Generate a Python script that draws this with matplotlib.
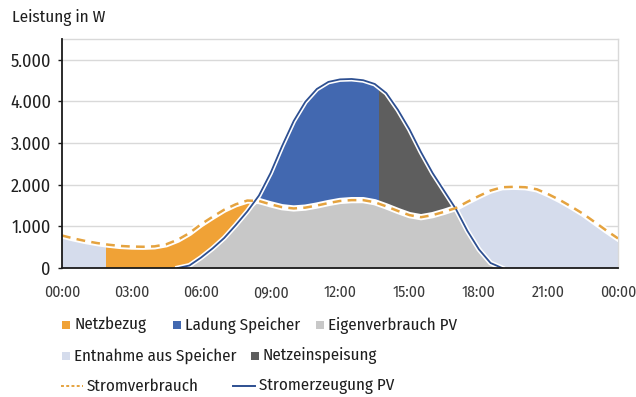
import numpy as np
import matplotlib
matplotlib.use("Agg")
import matplotlib.pyplot as plt
from matplotlib.patches import Rectangle
from matplotlib.lines import Line2D
from matplotlib.ticker import FuncFormatter

plt.rcParams['font.family'] = ['Fira Sans Condensed', 'DejaVu Sans']
plt.rcParams['font.stretch'] = 'condensed'

# Half-hourly profile of one day (hours 0..24)
hours = np.arange(0, 24.5, 0.5)

# Household consumption in W
consumption = [
    780, 710, 650, 600, 560, 530, 515, 510, 520, 570,
    680, 840, 1050, 1230, 1400, 1530, 1620, 1610, 1530, 1460,
    1430, 1450, 1500, 1560, 1610, 1630, 1630, 1580, 1480, 1370,
    1270, 1220, 1270, 1350, 1440, 1590, 1730, 1860, 1940, 1950,
    1940, 1890, 1770, 1630, 1470, 1300, 1100, 900, 710,
]

# PV generation in W
pv = [
    0, 0, 0, 0, 0, 0, 0, 0, 0, 0,
    0, 60, 250, 470, 720, 1030, 1360, 1740, 2280, 2930,
    3530, 3990, 4300, 4470, 4530, 4540, 4510, 4420, 4200, 3800,
    3330, 2780, 2280, 1850, 1420, 890, 445, 120, 0, 0,
    0, 0, 0, 0, 0, 0, 0, 0, 0,
]

# Times at which the battery is empty (grid supply starts) and full (feed-in starts)
battery_empty_h = 1.9
battery_full_h = 13.7

x_ticks = [0, 3, 6, 9, 12, 15, 18, 21, 24]
x_tick_labels = ["00:00", "03:00", "06:00", "09:00", "12:00", "15:00", "18:00", "21:00", "00:00"]
y_ticks = [0, 1000, 2000, 3000, 4000, 5000]

labels_fill = ["Netzbezug", "Ladung Speicher", "Eigenverbrauch PV",
               "Entnahme aus Speicher", "Netzeinspeisung"]
labels_line = ["Stromverbrauch", "Stromerzeugung PV"]

c_grid_supply = "#F0A236"
c_charge = "#4268B0"
c_self = "#C8C8C8"
c_discharge = "#D5DCEC"
c_feed_in = "#5E5E5E"
c_cons_line = "#E5A33F"
c_pv_line = "#2D4F91"
c_text = "#1F1F1F"

cons = np.array(consumption, dtype=float)
gen = np.array(pv, dtype=float)
base = np.minimum(cons, gen)

fig = plt.figure(figsize=(6.36, 3.97), dpi=100)
ax = fig.add_axes([62 / 636, 1 - 268 / 397, 556 / 636, 229 / 397])
ymax = 5500


def clipped(artist, x0, x1):
    rect = Rectangle((x0, -100), x1 - x0, ymax + 200, transform=ax.transData)
    artist.set_clip_path(rect)
    return artist


# Self-consumed PV
ax.fill_between(hours, 0, base, color=c_self, lw=0, zorder=2)

# Surplus: battery charging, then grid feed-in
surplus = gen > cons
clipped(ax.fill_between(hours, cons, gen, where=surplus, interpolate=True,
                        color=c_charge, lw=0, zorder=2), -1, battery_full_h)
clipped(ax.fill_between(hours, cons, gen, where=surplus, interpolate=True,
                        color=c_feed_in, lw=0, zorder=2), battery_full_h, 25)

# Deficit: battery discharge, grid supply while battery empty
deficit = cons >= gen
clipped(ax.fill_between(hours, gen, cons, where=deficit, interpolate=True,
                        color=c_discharge, lw=0, zorder=2), -1, battery_empty_h)
clipped(ax.fill_between(hours, gen, cons, where=deficit, interpolate=True,
                        color=c_grid_supply, lw=0, zorder=2), battery_empty_h, battery_full_h)
clipped(ax.fill_between(hours, gen, cons, where=deficit, interpolate=True,
                        color=c_discharge, lw=0, zorder=2), battery_full_h, 25)

# PV line with a white halo
pv_idx = np.where(gen > 0)[0]
sl = slice(max(pv_idx[0] - 1, 0), pv_idx[-1] + 2)
ax.plot(hours[sl], gen[sl], color="white", lw=3.6, zorder=3)
ax.plot(hours[sl], gen[sl], color=c_pv_line, lw=1.3, zorder=4)

# Consumption line with a white halo
ax.plot(hours, cons, color="white", lw=4.5, zorder=3)
ax.plot(hours, cons, color=c_cons_line, lw=1.8, ls=(0, (3.5, 2.5)), zorder=5)

ax.set_xlim(0, 24)
ax.set_ylim(0, ymax)
ax.set_xticks(x_ticks)
ax.set_xticklabels(x_tick_labels)
ax.set_yticks(y_ticks)
ax.yaxis.set_major_formatter(FuncFormatter(lambda v, p: f"{int(v):,}".replace(",", ".")))
ax.grid(axis="y", color="#D9D9D9", lw=1, zorder=0)
ax.set_axisbelow(True)

for s in ["top", "right"]:
    ax.spines[s].set_color("#D9D9D9")
    ax.spines[s].set_linewidth(1)
for s in ["left", "bottom"]:
    ax.spines[s].set_color("#1A1A1A")
    ax.spines[s].set_linewidth(1.3)
    ax.spines[s].set_zorder(6)

ax.tick_params(axis="x", length=0, pad=12, labelsize=11.3, colors="#3A3A3A")
ax.tick_params(axis="y", length=3, width=1, pad=5, labelsize=13, colors=c_text)
ax.tick_params(axis="y", color="#1A1A1A")

fig.text(12 / 636, 1 - 18 / 397, "Leistung in W", fontsize=12.3, color=c_text,
         ha="left", va="center")


# Legend
def legend_patch(xp, yp, color, text):
    fig.add_artist(Rectangle((xp / 636, 1 - (yp + 4) / 397), 8 / 636, 8 / 397,
                             transform=fig.transFigure, color=color, lw=0))
    fig.text((xp + 12) / 636, 1 - yp / 397, text, fontsize=12.2, color=c_text,
             ha="left", va="center")


def legend_line(xp, yp, color, ls, text):
    fig.add_artist(Line2D([xp / 636, (xp + 22) / 636], [1 - yp / 397, 1 - yp / 397],
                          transform=fig.transFigure, color=color, lw=1.4, ls=ls))
    fig.text((xp + 26) / 636, 1 - yp / 397, text, fontsize=12.2, color=c_text,
             ha="left", va="center")


legend_patch(62, 325, c_grid_supply, labels_fill[0])
legend_patch(173, 325, c_charge, labels_fill[1])
legend_patch(316, 325, c_self, labels_fill[2])
legend_patch(62, 356, c_discharge, labels_fill[3])
legend_patch(251, 356, c_feed_in, labels_fill[4])
legend_line(61, 386, c_cons_line, (0, (1.5, 1.2)), labels_line[0])
legend_line(233, 386, c_pv_line, "-", labels_line[1])

fig.savefig("out.png", dpi=100)
